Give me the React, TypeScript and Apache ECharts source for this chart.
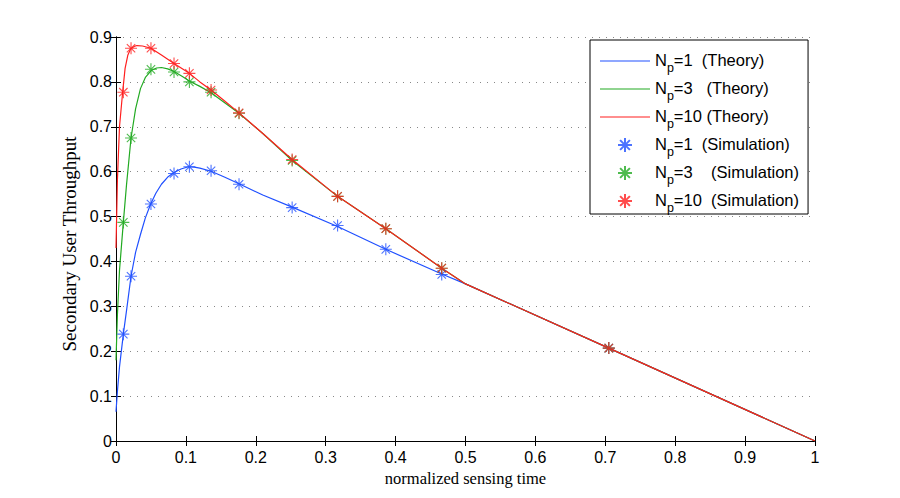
import React, { useEffect, useRef } from "react";
import * as echarts from "echarts";

// Theory curves: [normalized sensing time, throughput]
const theoryNp1: [number, number][] = [
  [0, 0.065], [0.002, 0.11], [0.005, 0.165], [0.0105, 0.238], [0.015, 0.29],
  [0.0215, 0.367], [0.028, 0.42], [0.035, 0.46], [0.042, 0.497], [0.0496, 0.528],
  [0.057, 0.552], [0.065, 0.572], [0.074, 0.588], [0.083, 0.598], [0.093, 0.606],
  [0.1035, 0.611], [0.112, 0.61], [0.12, 0.608], [0.136, 0.601], [0.155, 0.588],
  [0.176, 0.573], [0.21, 0.548], [0.252, 0.521], [0.317, 0.478], [0.386, 0.427],
  [0.466, 0.372], [0.5, 0.35], [0.705, 0.207], [1, 0],
];
const theoryNp3: [number, number][] = [
  [0, 0.18], [0.002, 0.28], [0.005, 0.38], [0.0105, 0.487], [0.015, 0.57],
  [0.0215, 0.675], [0.028, 0.74], [0.035, 0.785], [0.042, 0.81], [0.051, 0.826],
  [0.058, 0.831], [0.065, 0.832], [0.074, 0.829], [0.083, 0.823], [0.095, 0.812],
  [0.106, 0.801], [0.12, 0.79], [0.136, 0.776], [0.155, 0.754], [0.176, 0.73],
  [0.21, 0.685], [0.252, 0.625], [0.317, 0.545], [0.386, 0.473], [0.466, 0.385],
  [0.5, 0.35], [0.705, 0.207], [1, 0],
];
const theoryNp10: [number, number][] = [
  [0, 0.43], [0.002, 0.58], [0.005, 0.7], [0.0095, 0.777], [0.013, 0.83],
  [0.017, 0.86], [0.021, 0.874], [0.026, 0.879], [0.03, 0.881], [0.038, 0.88],
  [0.05, 0.875], [0.065, 0.86], [0.083, 0.841], [0.105, 0.819], [0.12, 0.8],
  [0.136, 0.782], [0.155, 0.758], [0.176, 0.731], [0.21, 0.685], [0.252, 0.627],
  [0.317, 0.545], [0.386, 0.473], [0.466, 0.385], [0.5, 0.35], [0.705, 0.207], [1, 0],
];

// Simulation points
const simX = [0.0105, 0.0215, 0.05, 0.083, 0.105, 0.136, 0.176, 0.252, 0.317, 0.386, 0.466, 0.705];
const simNp1 = [0.238, 0.367, 0.528, 0.596, 0.611, 0.602, 0.572, 0.52, 0.48, 0.427, 0.371, 0.207];
const simNp3 = [0.487, 0.675, 0.828, 0.822, 0.8, 0.777, 0.73, 0.625, 0.545, 0.473, 0.385, 0.207];
const simNp10 = [0.777, 0.875, 0.875, 0.841, 0.819, 0.782, 0.731, 0.627, 0.545, 0.473, 0.385, 0.207];

const seriesNames = [
  "Np=1 (Theory)", "Np=3 (Theory)", "Np=10 (Theory)",
  "Np=1 (Simulation)", "Np=3 (Simulation)", "Np=10 (Simulation)",
];
const legendTails: Record<string, string> = {
  "Np=1 (Theory)": "=1\u00a0\u00a0(Theory)",
  "Np=3 (Theory)": "=3\u00a0\u00a0\u00a0(Theory)",
  "Np=10 (Theory)": "=10\u00a0(Theory)",
  "Np=1 (Simulation)": "=1\u00a0\u00a0(Simulation)",
  "Np=3 (Simulation)": "=3\u00a0\u00a0\u00a0\u00a0(Simulation)",
  "Np=10 (Simulation)": "=10\u00a0\u00a0(Simulation)",
};

const BLUE = "#2050ff";
const GREEN = "#22aa22";
const RED = "#ff1f1f";
const STAR = "path://M5,0L5,10M0,5L10,5M1.5,1.5L8.5,8.5M1.5,8.5L8.5,1.5";
const LINE_ICON = "path://M0,0L50,0L50,1.2L0,1.2Z";

export default function App() {
  const ref = useRef<HTMLDivElement>(null);
  useEffect(() => {
    if (!ref.current) return;
    const chart = echarts.init(ref.current, undefined, { renderer: "svg" });
    const sans = "Liberation Sans";
    const serif = "Liberation Serif";
    const lineSeries = (name: string, data: [number, number][], color: string) => ({
      name,
      type: "line",
      data,
      symbol: "none",
      smooth: false,
      lineStyle: { color, width: 1.2 },
      itemStyle: { color },
      z: 3,
    });
    const simSeries = (name: string, ys: number[], color: string) => ({
      name,
      type: "scatter",
      data: simX.map((x, i) => [x, ys[i]]),
      symbol: STAR,
      symbolSize: 12,
      itemStyle: { color: "none", borderColor: color, borderWidth: 1.1 },
      z: 4,
    });
    chart.setOption({
      animation: false,
      grid: { left: 116, right: 85, top: 37, bottom: 57 },
      xAxis: [
        {
          type: "value", min: 0, max: 1, interval: 0.1,
          name: "normalized sensing time", nameLocation: "middle", nameGap: 25,
          nameTextStyle: { fontFamily: serif, fontSize: 16.5, color: "#000" },
          axisLine: { lineStyle: { color: "#000", width: 1 } },
          axisTick: { inside: true, length: 5, lineStyle: { color: "#000" } },
          axisLabel: { fontFamily: sans, fontSize: 16, color: "#000", margin: 8 },
          splitLine: { show: false },
        },
        {
          type: "value", min: 0, max: 1, interval: 0.1, position: "top",
          axisLine: { lineStyle: { color: "#000", width: 1 } },
          axisTick: { inside: true, length: 5, lineStyle: { color: "#000" } },
          axisLabel: { show: false },
          splitLine: { show: false },
        },
      ],
      yAxis: [
        {
          type: "value", min: 0, max: 0.9, interval: 0.1,
          name: "Secondary User Throughput", nameLocation: "middle", nameGap: 34,
          nameTextStyle: { fontFamily: serif, fontSize: 19, color: "#000", padding: [0, 10, 0, 0] },
          axisLine: { show: true, lineStyle: { color: "#000", width: 1 } },
          axisTick: { show: true, inside: true, length: 5, lineStyle: { color: "#000" } },
          axisLabel: { fontFamily: sans, fontSize: 16, color: "#000", margin: 4 },
          splitLine: { show: true, lineStyle: { color: "#888", type: [1, 6], width: 1 } },
        },
        {
          type: "value", min: 0, max: 0.9, interval: 0.1, position: "right",
          axisLine: { show: true, lineStyle: { color: "#000", width: 1 } },
          axisTick: { show: true, inside: true, length: 5, lineStyle: { color: "#000" } },
          axisLabel: { show: false },
          splitLine: { show: false },
        },
      ],
      legend: {
        orient: "vertical",
        left: 590,
        top: 40,
        padding: [11, 9, 0, 10],
        itemWidth: 50,
        itemHeight: 14,
        itemGap: 5,
        symbolKeepAspect: true,
        backgroundColor: "#fff",
        borderColor: "#000",
        borderWidth: 1,
        borderRadius: 0,
        data: seriesNames.map((n, i) => (i < 3 ? { name: n, icon: LINE_ICON } : { name: n })),
        formatter: (name: string) => `{n|N}{s|p}{n|${legendTails[name]}}`,
        textStyle: {
          fontFamily: sans,
          color: "#000",
          rich: {
            n: { fontFamily: sans, fontSize: 16.5, lineHeight: 20, verticalAlign: "top", color: "#000" },
            s: { fontFamily: sans, fontSize: 12.5, lineHeight: 12, padding: [10, 0, 0, 0], verticalAlign: "top", color: "#000" },
          },
        },
      },
      series: [
        lineSeries(seriesNames[0], theoryNp1, BLUE),
        lineSeries(seriesNames[1], theoryNp3, GREEN),
        lineSeries(seriesNames[2], theoryNp10, RED),
        simSeries(seriesNames[3], simNp1, BLUE),
        simSeries(seriesNames[4], simNp3, GREEN),
        simSeries(seriesNames[5], simNp10, RED),
      ],
    });
    return () => chart.dispose();
  }, []);
  return <div ref={ref} style={{ width: 900, height: 498, position: "absolute", left: 0, top: 0 }} />;
}
